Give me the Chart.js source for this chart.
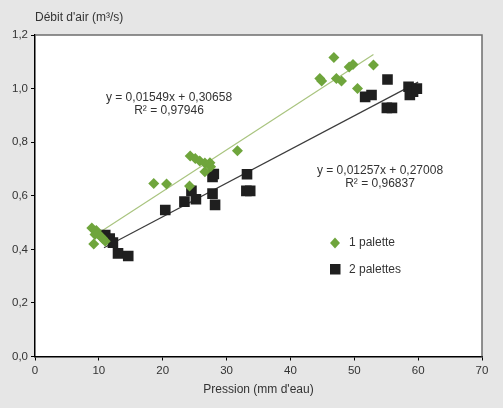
<!DOCTYPE html>
<html>
<head>
<meta charset="utf-8">
<script src="https://cdn.jsdelivr.net/npm/chart.js@4.4.1/dist/chart.umd.min.js"></script>
<style>
  html, body { margin: 0; padding: 0; background: #e6e6e6; }
  #wrap { width: 503px; height: 408px; }
</style>
</head>
<body>
<div id="wrap"><canvas id="myChart" width="503" height="408"></canvas></div>
<script>
// data
const palette1X = [8.9, 9.2, 9.4, 9.6, 9.8, 10.2, 10.6, 11.0, 18.6, 20.6, 24.2, 24.3, 25.1, 25.8, 26.6, 27.4, 26.6, 27.5, 31.7, 44.6, 44.9, 46.8, 47.2, 48.0, 49.2, 49.8, 50.5, 53.0]
const palette1Y = [0.48, 0.42, 0.455, 0.47, 0.46, 0.45, 0.44, 0.43, 0.646, 0.644, 0.636, 0.748, 0.739, 0.730, 0.722, 0.723, 0.690, 0.708, 0.768, 1.038, 1.028, 1.116, 1.038, 1.028, 1.081, 1.090, 1.000, 1.088]

const palette2X = [11.0, 11.7, 12.2, 13.0, 14.6, 20.4, 23.4, 24.5, 25.2, 27.8, 28.0, 27.8, 28.2, 33.2, 33.1, 33.7, 51.7, 52.7, 55.2, 55.1, 55.9, 58.5, 58.7, 59.2, 59.8]
const palette2Y = [0.453, 0.44, 0.425, 0.385, 0.375, 0.547, 0.578, 0.618, 0.587, 0.670, 0.681, 0.608, 0.566, 0.680, 0.618, 0.618, 0.969, 0.976, 1.034, 0.928, 0.928, 1.007, 0.976, 0.988, 1.0]

// trendline end points
const trend1X = [9.0, 53.0]
const trend1Y = [0.446, 1.127]
const trend2X = [10.8, 60.0]
const trend2Y = [0.406, 1.024]

const xTicks = [0, 10, 20, 30, 40, 50, 60, 70]
const yTicks = [0, 0.2, 0.4, 0.6, 0.8, 1.0, 1.2]

const yTitle = "Débit d'air (m³/s)"
const xTitle = "Pression (mm d'eau)"
const eq1 = ['y = 0,01549x + 0,30658', 'R² = 0,97946']
const eq2 = ['y = 0,01257x + 0,27008', 'R² = 0,96837']
const seriesNames = ['1 palette', '2 palettes']

const GREEN = '#6fa53c'
const BLACK = '#1f1f1f'
const TEXT = '#333333'
const FONT = "'Liberation Sans', Arial, sans-serif"

Chart.defaults.font.family = FONT
Chart.defaults.color = TEXT

function toPoints(xs, ys) {
    return xs.map((x, i) => ({ x: x, y: ys[i] }))
}

// background, white plot area, frame and texts
const decorations = {
    id: 'decorations',
    beforeDraw(chart) {
        const { ctx, chartArea: a } = chart
        ctx.save()
        ctx.fillStyle = '#e6e6e6'
        ctx.fillRect(0, 0, chart.width, chart.height)
        ctx.fillStyle = '#ffffff'
        ctx.fillRect(a.left, a.top, a.right - a.left, a.bottom - a.top)
        ctx.restore()
    },
    afterDraw(chart) {
        const { ctx, chartArea: a } = chart
        ctx.save()
        // top and right frame
        ctx.strokeStyle = '#6e6e6e'
        ctx.lineWidth = 1.5
        ctx.beginPath()
        ctx.moveTo(a.left, a.top)
        ctx.lineTo(a.right, a.top)
        ctx.lineTo(a.right, a.bottom)
        ctx.stroke()

        ctx.fillStyle = TEXT
        ctx.font = '12px ' + FONT
        ctx.textBaseline = 'middle'

        // y axis title, horizontal above the axis
        ctx.textAlign = 'left'
        ctx.fillText(yTitle, a.left, 18)

        // trendline equations
        ctx.textAlign = 'center'
        ctx.fillText(eq1[0], 169, 98)
        ctx.fillText(eq1[1], 169, 111)
        ctx.fillText(eq2[0], 380, 171)
        ctx.fillText(eq2[1], 380, 184)

        // legend
        ctx.textAlign = 'left'
        ctx.fillStyle = GREEN
        ctx.beginPath()
        ctx.moveTo(335, 237.5)
        ctx.lineTo(340, 243)
        ctx.lineTo(335, 248.5)
        ctx.lineTo(330, 243)
        ctx.closePath()
        ctx.fill()
        ctx.fillStyle = BLACK
        ctx.fillRect(330, 264, 10.5, 10.5)
        ctx.fillStyle = TEXT
        ctx.fillText(seriesNames[0], 349, 243)
        ctx.fillText(seriesNames[1], 349, 269.5)
        ctx.restore()
    }
}

const ctx = document.getElementById('myChart').getContext('2d')
const myChart = new Chart(ctx, {
    type: 'scatter',
    data: {
        datasets: [
            {
                label: seriesNames[0],
                data: toPoints(palette1X, palette1Y),
                pointStyle: 'rectRot',
                pointRadius: 5.5,
                backgroundColor: GREEN,
                borderColor: GREEN,
                borderWidth: 0,
                order: 0
            },
            {
                label: seriesNames[1],
                data: toPoints(palette2X, palette2Y),
                pointStyle: 'rect',
                pointRadius: 7.5,
                backgroundColor: BLACK,
                borderColor: BLACK,
                borderWidth: 0,
                order: 1
            },
            {
                label: 'trend 1',
                data: toPoints(trend1X, trend1Y),
                showLine: true,
                pointRadius: 0,
                borderColor: '#a9c47f',
                borderWidth: 1.2,
                order: 2
            },
            {
                label: 'trend 2',
                data: toPoints(trend2X, trend2Y),
                showLine: true,
                pointRadius: 0,
                borderColor: '#3c3c3c',
                borderWidth: 1.2,
                order: 2
            }
        ]
    },
    options: {
        responsive: false,
        animation: false,
        layout: { padding: { left: 0, top: 35, right: 21, bottom: 0 } },
        plugins: {
            legend: { display: false },
            tooltip: { enabled: false },
            title: { display: false }
        },
        scales: {
            x: {
                type: 'linear',
                min: xTicks[0],
                max: xTicks[xTicks.length - 1],
                afterBuildTicks: (s) => { s.ticks = xTicks.map(v => ({ value: v })) },
                afterFit: (s) => { s.height = 51.5 },
                grid: { drawOnChartArea: false, drawTicks: true, tickLength: 4, color: '#000' },
                border: { display: true, color: '#000', width: 1.5 },
                ticks: { padding: 3, color: TEXT, font: { size: 11.5 } },
                title: {
                    display: true,
                    text: xTitle,
                    color: TEXT,
                    font: { size: 12 },
                    padding: { top: 2, bottom: 11 }
                }
            },
            y: {
                type: 'linear',
                min: yTicks[0],
                max: yTicks[yTicks.length - 1],
                afterBuildTicks: (s) => { s.ticks = yTicks.map(v => ({ value: v })) },
                afterFit: (s) => { s.width = 35 },
                grid: { drawOnChartArea: false, drawTicks: true, tickLength: 4, color: '#000' },
                border: { display: true, color: '#000', width: 1.5 },
                ticks: {
                    padding: 3,
                    color: TEXT,
                    font: { size: 11.5 },
                    callback: (v) => v.toFixed(1).replace('.', ',')
                }
            }
        }
    },
    plugins: [decorations]
})
</script>
</body>
</html>
